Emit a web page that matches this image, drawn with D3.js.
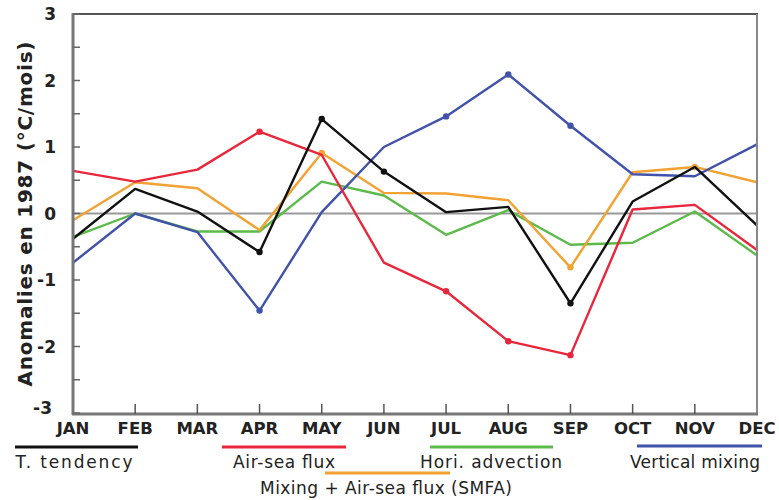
<!DOCTYPE html>
<html><head><meta charset="utf-8">
<script src="https://cdn.jsdelivr.net/npm/d3@7/dist/d3.min.js"></script>
<style>body{margin:0;background:#fff}svg{display:block}</style>
</head><body><svg id="c" width="779" height="500"></svg>
<script>
const months = ["JAN","FEB","MAR","APR","MAY","JUN","JUL","AUG","SEP","OCT","NOV","DEC"];
const yTicks = [-3,-2,-1,0,1,2,3];
const tTendency = [-0.38,0.37,0.03,-0.58,1.42,0.63,0.02,0.10,-1.35,0.18,0.70,-0.18];
const airSea    = [0.64,0.48,0.66,1.23,0.88,-0.74,-1.17,-1.92,-2.13,0.06,0.13,-0.55];
const horiAdv   = [-0.35,0.00,-0.27,-0.27,0.48,0.27,-0.32,0.05,-0.47,-0.44,0.03,-0.63];
const smfa      = [-0.10,0.47,0.38,-0.25,0.91,0.31,0.30,0.20,-0.81,0.62,0.70,0.47];
const vertMix   = [-0.74,0.00,-0.28,-1.46,0.02,1.00,1.46,2.09,1.32,0.59,0.56,1.04];
const seriesNames = ["T. tendency","Air-sea flux","Mixing + Air-sea flux (SMFA)","Hori. advection","Vertical mixing"];
const markerMonths = {
  "T. tendency":["APR","MAY","JUN","SEP"],
  "Air-sea flux":["APR","JUL","AUG","SEP"],
  "Mixing + Air-sea flux (SMFA)":["MAY","SEP","NOV"],
  "Hori. advection":[],
  "Vertical mixing":["APR","JUL","AUG","SEP"]
};

const colors = ["#111111","#e8263c","#f2a232","#5cba4a","#4152aa"];
const values = [tTendency, airSea, smfa, horiAdv, vertMix];

const svg = d3.select("#c");
const x = d3.scalePoint().domain(months).range([73,757]);
const y = d3.scaleLinear().domain([-3,3]).range([413,14]);

// zero line
svg.append("line").attr("x1",73).attr("x2",757).attr("y1",y(0)).attr("y2",y(0))
  .attr("stroke","#999").attr("stroke-width",2);

// series (draw order: green, orange, blue, red, black)
const order = [3,2,4,1,0];
order.forEach(i=>{
  const line = d3.line().x((d,j)=>x(months[j])).y(d=>y(d));
  svg.append("path").datum(values[i]).attr("d",line).attr("fill","none")
    .attr("stroke",colors[i]).attr("stroke-width",2.4).attr("stroke-linejoin","round");
  svg.selectAll(null).data(markerMonths[seriesNames[i]]).enter().append("circle")
    .attr("cx",m=>x(m)).attr("cy",m=>y(values[i][months.indexOf(m)])).attr("r",3.2)
    .attr("fill",colors[i]);
});

// frame
svg.append("line").attr("x1",73).attr("x2",758).attr("y1",14).attr("y2",14).attr("stroke","#555").attr("stroke-width",2);
svg.append("line").attr("x1",757).attr("x2",757).attr("y1",14).attr("y2",414).attr("stroke","#888").attr("stroke-width",2);
svg.append("line").attr("x1",73).attr("x2",73).attr("y1",13).attr("y2",415).attr("stroke","#777").attr("stroke-width",3);
svg.append("line").attr("x1",72).attr("x2",758).attr("y1",414).attr("y2",414).attr("stroke","#777").attr("stroke-width",3);

// y axis ticks (inward)
const yMinor = d3.range(-2.5,3,1);
svg.selectAll(null).data(yTicks.concat(yMinor)).enter().append("line")
  .attr("x1",73).attr("x2",80).attr("y1",d=>y(d)).attr("y2",d=>y(d))
  .attr("stroke","#666").attr("stroke-width",1.5);
svg.selectAll(null).data(yTicks).enter().append("text")
  .attr("x",d=>d===-3?52:56).attr("y",d=>d===-3?y(d)+1:y(d)+6)
  .attr("text-anchor","end").attr("font-family","DejaVu Sans").attr("font-weight","bold")
  .attr("font-size",17).attr("fill","#222").text(d=>d);

// x ticks
svg.selectAll(null).data(months.slice(1,11)).enter().append("line")
  .attr("x1",d=>x(d)).attr("x2",d=>x(d)).attr("y1",414).attr("y2",404)
  .attr("stroke","#555").attr("stroke-width",1.5);
svg.selectAll(null).data(months).enter().append("text")
  .attr("x",d=>x(d)).attr("y",434).attr("text-anchor","middle")
  .attr("font-family","DejaVu Sans").attr("font-weight","bold").attr("font-size",16.5)
  .attr("fill","#222").text(d=>d);

// y label
svg.append("text").attr("transform","translate(32,214) rotate(-90)")
  .attr("text-anchor","middle").attr("font-family","DejaVu Sans").attr("font-weight","bold")
  .attr("font-size",20).attr("fill","#222")
  .attr("textLength",345).attr("lengthAdjust","spacing")
  .text("Anomalies en 1987 (°C/mois)");

// legend
const legend = [
  {i:0, x1:15, x2:138, ly:447, tx:74, ty:468, w:117},
  {i:1, x1:222, x2:346, ly:447, tx:284, ty:468, w:102},
  {i:2, x1:325, x2:450, ly:473, tx:386, ty:494, w:252},
  {i:3, x1:430, x2:553, ly:447, tx:491, ty:468, w:142},
  {i:4, x1:637, x2:762, ly:446, tx:695, ty:468, w:130}
];
legend.forEach(l=>{
  svg.append("line").attr("x1",l.x1).attr("x2",l.x2).attr("y1",l.ly).attr("y2",l.ly)
    .attr("stroke",colors[l.i]).attr("stroke-width",3);
  svg.append("text").attr("x",l.tx).attr("y",l.ty).attr("text-anchor","middle")
    .attr("font-family","DejaVu Sans").attr("font-size",17).attr("fill","#222")
    .attr("textLength",l.w).attr("lengthAdjust","spacing")
    .text(seriesNames[l.i]);
});
</script></body></html>
